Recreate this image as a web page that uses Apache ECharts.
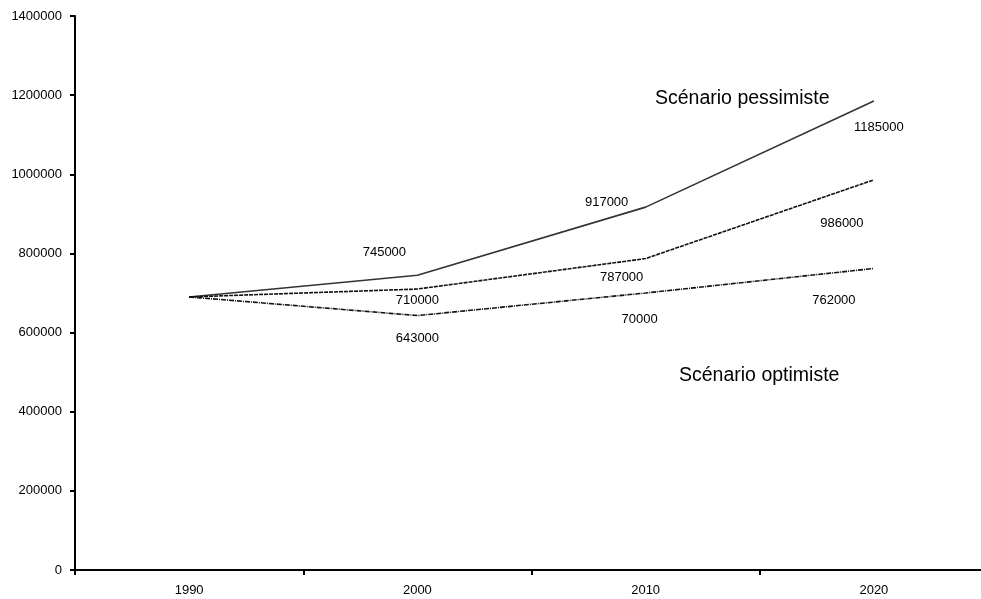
<!DOCTYPE html>
<html>
<head>
<meta charset="utf-8">
<script src="https://cdn.jsdelivr.net/npm/echarts@6/dist/echarts.min.js"></script>
<style>html,body{margin:0;padding:0;background:#fff;overflow:hidden;width:981px;height:599px;}#c{width:988px;height:599px;}</style>
</head>
<body>
<div id="c"></div>
<script>
const years = ['1990', '2000', '2010', '2020'];
const pessimiste = [690000, 745000, 917000, 1185000];
const median = [690000, 710000, 787000, 986000];
const optimiste = [690000, 643000, 700000, 762000];
const labelsPessimiste = ['', '745000', '917000', '1185000'];
const labelsMedian = ['', '710000', '787000', '986000'];
const labelsOptimiste = ['', '643000', '70000', '762000'];
const yTicks = { min: 0, max: 1400000, interval: 200000 };
const titlePessimiste = 'Scénario pessimiste';
const titleOptimiste = 'Scénario optimiste';

const FONT = 'Liberation Sans, Arial, sans-serif';

function build(values, labels, offsets) {
  return values.map((v, i) => ({
    value: v,
    label: labels[i] ? {
      show: true,
      position: 'inside',
      formatter: labels[i],
      offset: offsets[i],
      color: '#000',
      fontSize: 13,
      fontFamily: FONT
    } : { show: false }
  }));
}

const chart = echarts.init(document.getElementById('c'), null, { renderer: 'canvas' });
const option = {
  animation: false,
  backgroundColor: '#fff',
  grid: { left: 75, right: 0, top: 16, bottom: 29, containLabel: false },
  xAxis: {
    type: 'category',
    data: years,
    boundaryGap: true,
    axisLine: { lineStyle: { color: '#000', width: 2 } },
    axisTick: { show: true, length: 5, lineStyle: { color: '#000', width: 2 } },
    axisLabel: { color: '#000', fontSize: 13, fontFamily: FONT, margin: 14 },
    splitLine: { show: false }
  },
  yAxis: {
    type: 'value',
    min: yTicks.min, max: yTicks.max, interval: yTicks.interval,
    axisLine: { show: true, lineStyle: { color: '#000', width: 2 } },
    axisTick: { show: true, length: 5, lineStyle: { color: '#000', width: 2 } },
    axisLabel: { color: '#000', fontSize: 13, fontFamily: FONT, margin: 13, formatter: v => String(v) },
    splitLine: { show: false }
  },
  series: [
    {
      name: titlePessimiste,
      type: 'line',
      data: build(pessimiste, labelsPessimiste, [null, [-33, -23], [-39, -5], [5, 26]]),
      symbol: 'circle', symbolSize: 1, showSymbol: true,
      itemStyle: { color: 'rgba(0,0,0,0)' },
      lineStyle: { color: '#333', width: 1.6, type: 'solid' },
      silent: true
    },
    {
      name: 'median',
      type: 'line',
      data: build(median, labelsMedian, [null, [0, 11], [-24, 19], [-32, 44]]),
      symbol: 'circle', symbolSize: 1, showSymbol: true,
      itemStyle: { color: 'rgba(0,0,0,0)' },
      lineStyle: { color: '#111', width: 1.6, type: [4, 1] },
      silent: true
    },
    {
      name: titleOptimiste,
      type: 'line',
      data: build(optimiste, labelsOptimiste, [null, [0, 23], [-6, 26], [-40, 32]]),
      symbol: 'circle', symbolSize: 1, showSymbol: true,
      itemStyle: { color: 'rgba(0,0,0,0)' },
      lineStyle: { color: '#111', width: 1.6, type: [5, 1, 1, 1] },
      silent: true
    }
  ],
  graphic: [
    { type: 'text', left: 655, top: 89, style: { text: titlePessimiste, fill: '#000', fontSize: 19.5, fontFamily: FONT } },
    { type: 'text', left: 679, top: 366, style: { text: titleOptimiste, fill: '#000', fontSize: 19.5, fontFamily: FONT } }
  ]
};
chart.setOption(option);
</script>
</body>
</html>
